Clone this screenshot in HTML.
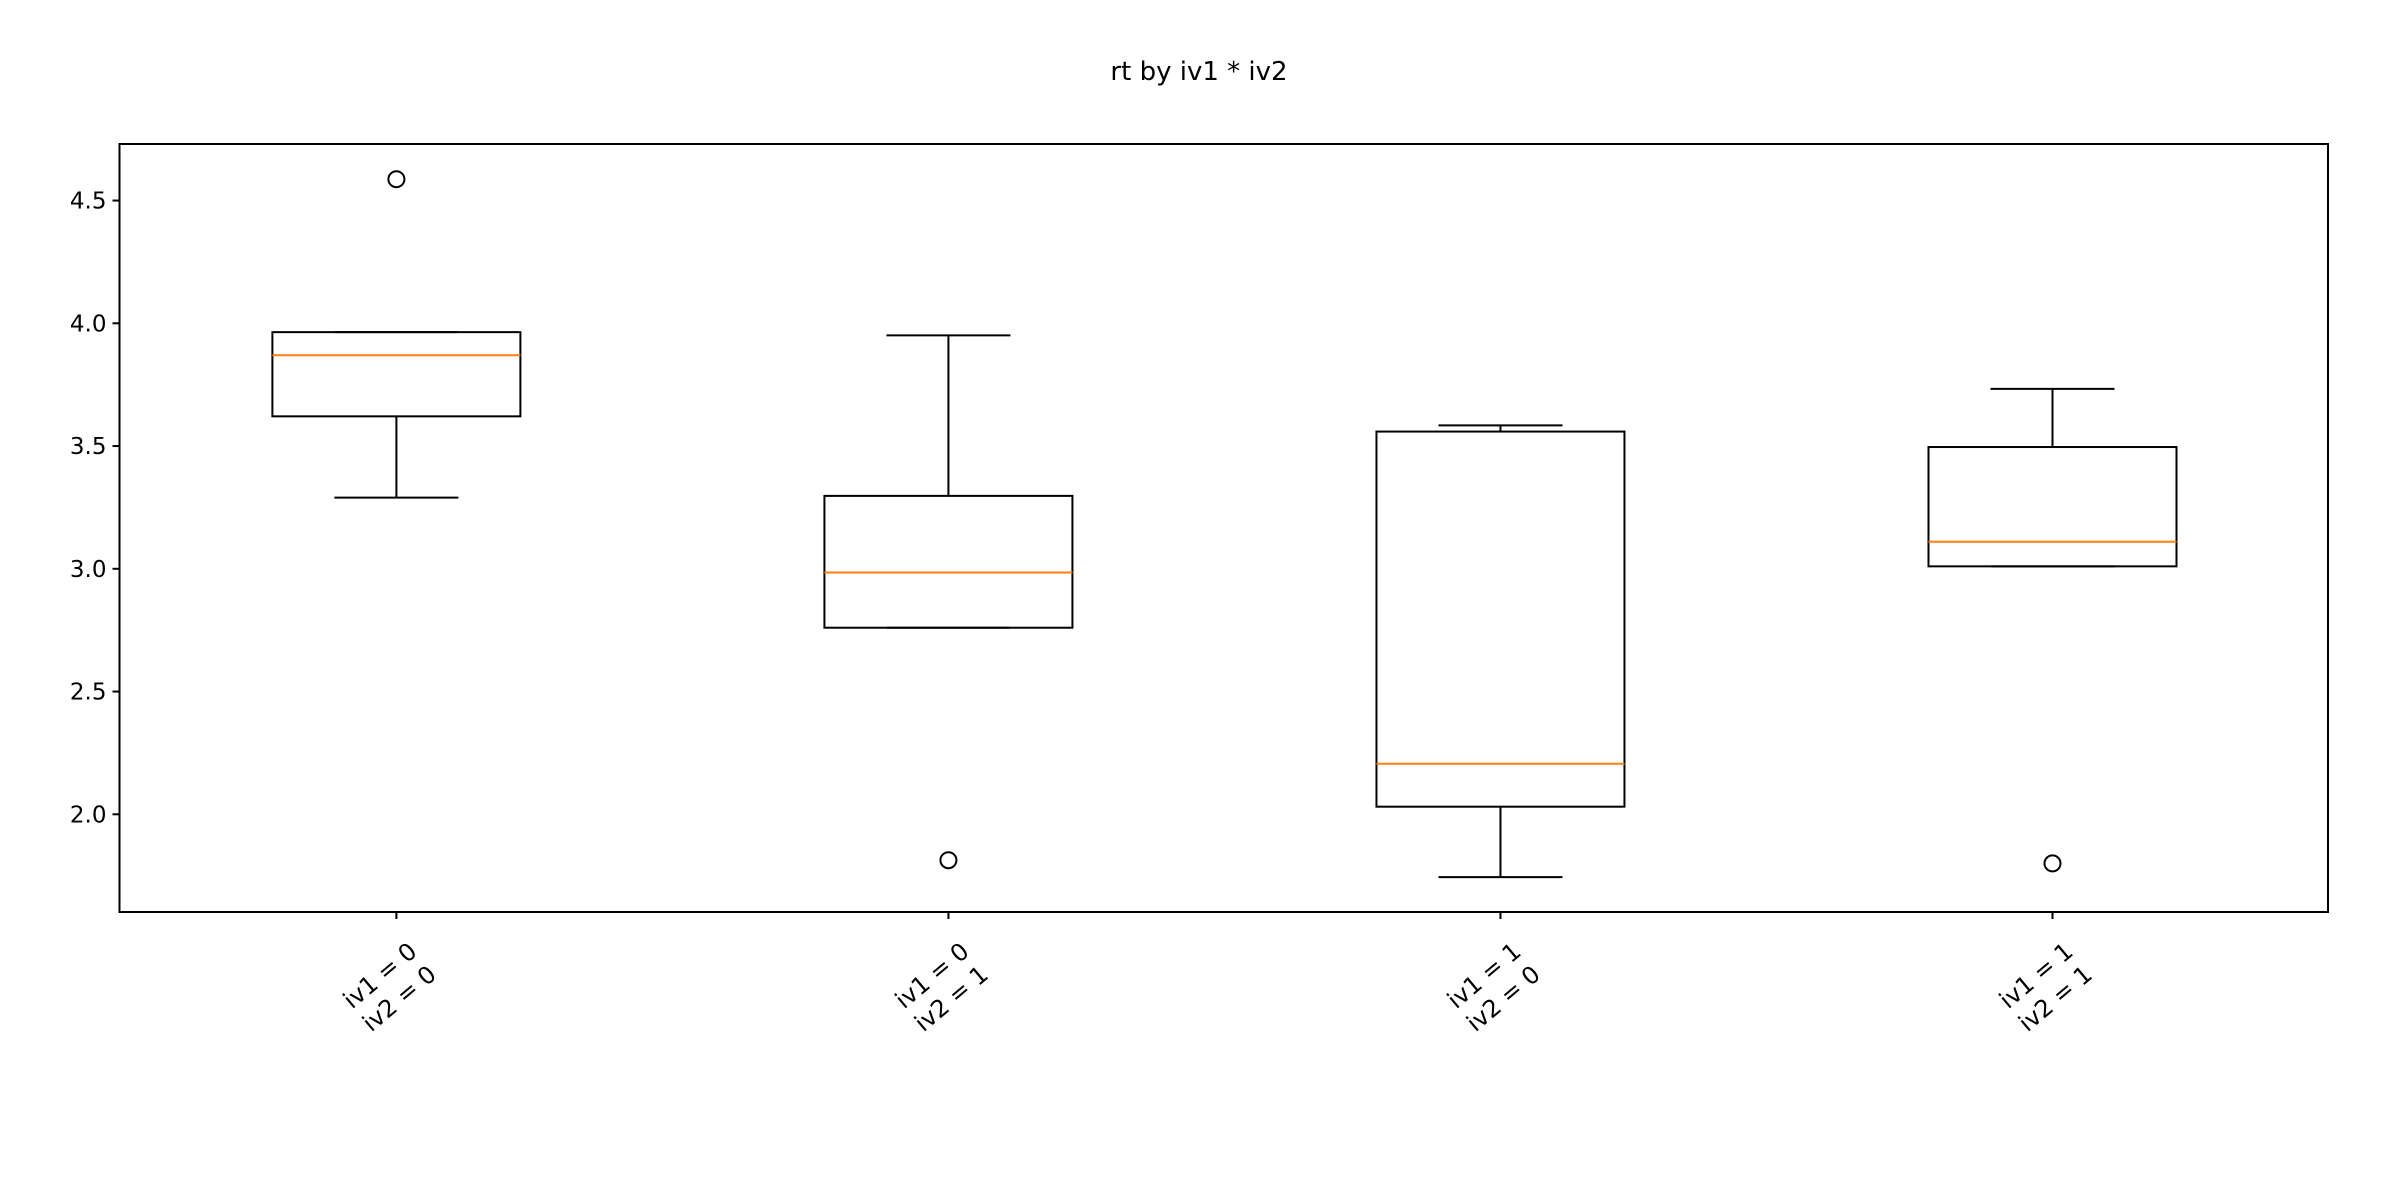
<!DOCTYPE html>
<html><head><meta charset="utf-8"><style>
html,body{margin:0;padding:0;background:#fff;}
svg{display:block;font-family:"DejaVu Sans","Liberation Sans",sans-serif;}
</style></head><body>
<svg id="chart" width="2400" height="1200" viewBox="0 0 2400 1200">
<rect width="2400" height="1200" fill="#fff"/>
<text x="1199" y="80" font-size="26" text-anchor="middle">rt by iv1 * iv2</text>
<g id="plot"></g>
<rect x="119.5" y="144" width="2208.5" height="768" fill="none" stroke="#000" stroke-width="2"/>
</svg>
<script>
const categories = ["iv1 = 0\niv2 = 0", "iv1 = 0\niv2 = 1", "iv1 = 1\niv2 = 0", "iv1 = 1\niv2 = 1"];
const whiskerLow = [3.29, 2.76, 1.744, 3.01];
const q1Values = [3.621, 2.76, 2.031, 3.01];
const medianValues = [3.87, 2.985, 2.206, 3.11];
const q3Values = [3.964, 3.297, 3.559, 3.496];
const whiskerHigh = [3.964, 3.951, 3.584, 3.733];
const outliers = [[4.587], [1.813], [], [1.80]];
const yTicks = [2.0, 2.5, 3.0, 3.5, 4.0, 4.5];
const yTickLabels = ["2.0", "2.5", "3.0", "3.5", "4.0", "4.5"];

const NS = "http://www.w3.org/2000/svg";
const L = 119.5, R = 2328, T = 144, B = 912;
function yScale(v){ return 814.3 - (v - 2.0) * 245.5; }
function xScale(i){ return 396.4 + i * (2052.5 - 396.4) / 3; }
const g = document.getElementById('plot');
function mk(tag, attrs){ const e = document.createElementNS(NS, tag); for (const k in attrs) e.setAttribute(k, attrs[k]); g.appendChild(e); return e; }
function line(x1,y1,x2,y2,c){ return mk('line',{x1,y1,x2,y2,stroke:c||'#000','stroke-width':2}); }

yTicks.forEach((t,i)=>{
  const y = yScale(t);
  const tk = line(L-7, y, L, y);
  
  
  const tx = mk('text',{x:L-13, y:y+8, 'font-size':23, 'text-anchor':'end'});
  tx.textContent = yTickLabels[i];
  
  
});

const bw = 248, cw = 124;
categories.forEach((c,i)=>{
  const x = xScale(i);
  const grp = document.createElementNS(NS,'g');
  
  
  g.appendChild(grp);
  function add(tag, attrs){ const e = document.createElementNS(NS, tag); for (const k in attrs) e.setAttribute(k, attrs[k]); grp.appendChild(e); return e; }
  add('line',{x1:x,y1:yScale(q1Values[i]),x2:x,y2:yScale(whiskerLow[i]),stroke:'#000','stroke-width':2});
  add('line',{x1:x,y1:yScale(q3Values[i]),x2:x,y2:yScale(whiskerHigh[i]),stroke:'#000','stroke-width':2});
  add('line',{x1:x-cw/2,y1:yScale(whiskerLow[i]),x2:x+cw/2,y2:yScale(whiskerLow[i]),stroke:'#000','stroke-width':2});
  add('line',{x1:x-cw/2,y1:yScale(whiskerHigh[i]),x2:x+cw/2,y2:yScale(whiskerHigh[i]),stroke:'#000','stroke-width':2});
  add('rect',{x:x-bw/2,y:yScale(q3Values[i]),width:bw,height:yScale(q1Values[i])-yScale(q3Values[i]),fill:'none',stroke:'#000','stroke-width':2});
  const m = add('line',{x1:x-bw/2,y1:yScale(medianValues[i]),x2:x+bw/2,y2:yScale(medianValues[i]),stroke:'#ff7f0e','stroke-width':2});
  
  
  outliers[i].forEach(v=>{
    const o = add('circle',{cx:x,cy:yScale(v),r:8,fill:'none',stroke:'#000','stroke-width':2});
    
    
  });
  const tk = line(x, B, x, B+7);
  
  
  const lines = c.split('\n');
  const t = mk('text',{transform:'translate('+(x-6)+',988) rotate(-40)','font-size':24,'text-anchor':'middle'});
  
  
  lines.forEach((s,j)=>{
    const ts = document.createElementNS(NS,'tspan');
    ts.setAttribute('x', 0);
    ts.setAttribute('y', j===0 ? -8 : 22);
    ts.textContent = s;
    t.appendChild(ts);
  });
});
</script>
</body></html>
